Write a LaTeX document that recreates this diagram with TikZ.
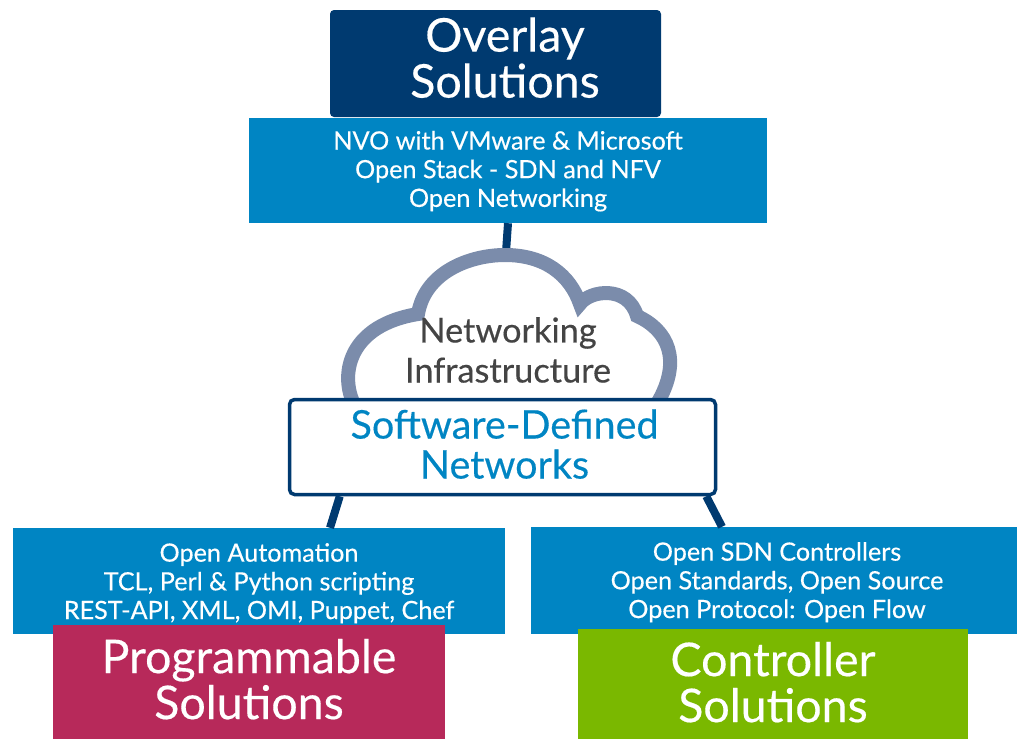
\documentclass[tikz,border=0pt]{standalone}
\usepackage{fontspec}
\usepackage{xcolor}
\setmainfont{Lato}[FakeBold=0.35]
\usetikzlibrary{positioning}
\definecolor{navyblue}{HTML}{003A70}
\definecolor{dellblue}{HTML}{0085C3}
\definecolor{berry}{HTML}{B7295A}
\definecolor{leaf}{HTML}{7AB800}
\definecolor{cloudgray}{HTML}{7B8CAB}
\definecolor{textgray}{HTML}{444444}
\newcommand{\topstrut}[1]{\rule{0pt}{#1pt}}
\newcommand{\botstrut}[1]{\rule[-#1pt]{0pt}{#1pt}}
\tikzset{
  titlebox/.style={text=white,align=center,inner sep=0pt,font=\fontsize{46.5}{46}\selectfont},
  infobox/.style={fill=dellblue,text=white,align=center,inner sep=0pt,font=\fontsize{25.2}{28.7}\selectfont},
  link/.style={draw=navyblue,line width=8pt}
}
\begin{document}
\begin{tikzpicture}[x=1pt,y=-1pt]
\useasboundingbox (0,0) rectangle (1017,739);
\node[infobox,minimum width=518pt,minimum height=105pt] (overlayinfo) at (508,170.5) {\topstrut{20}NVO with VMware \& Microsoft\\Open Stack - SDN and NFV\\Open Networking};
\node[titlebox,fill=navyblue,rounded corners=4pt,minimum width=331pt,minimum height=107pt] (overlay) at (495.5,63.5) {\hspace*{19pt}Overlay\\\hspace*{19pt}Solutions\botstrut{12}};
\coordinate (cloudtop) at (506,252);
\path (overlayinfo.south) edge [link] (cloudtop);
% cloud
\draw[draw=cloudgray,line width=14pt,fill=white] (353,402) .. controls (340,372) and (350,325) .. (418,314)
  .. controls (425,272) and (470,255) .. (505,255) .. controls (545,255) and (570,275) .. (580,304)
  .. controls (590,290) and (628,285) .. (637,316) .. controls (668,330) and (682,360) .. (658,402);
\node[text=textgray,align=center,inner sep=0pt,font=\fontsize{34.3}{40}\selectfont] (cloud) at (508,350) {Networking\\Infrastructure};
\node[draw=navyblue,fill=white,line width=3.5pt,rounded corners=5pt,text=dellblue,align=center,inner sep=0pt,minimum width=426pt,minimum height=95pt,font=\fontsize{39.5}{40}\selectfont] (sdn) at (502.5,447) {\hspace*{4pt}Software-Defined\\\hspace*{4pt}Networks\botstrut{6}};
\node[infobox,minimum width=492pt,minimum height=106pt] (autominfo) at (259,581) {\topstrut{23}Open Automation\\TCL, Perl \& Python scripting\\REST-API, XML, OMI, Puppet, Chef};
\node[infobox,minimum width=486pt,minimum height=107pt] (ctrlinfo) at (774,580.5) {\topstrut{22}\hspace*{6pt}Open SDN Controllers\\\hspace*{6pt}Open Standards, Open Source\\\hspace*{6pt}Open Protocol: Open Flow};
\node[titlebox,fill=berry,minimum width=392pt,minimum height=114pt] (autom) at (249,682) {Programmable\\Solutions\botstrut{6}};
\node[titlebox,fill=leaf,minimum width=390pt,minimum height=110pt] (ctrl) at (773,684) {Controller\\Solutions\botstrut{4}};
\path ([xshift=52pt]sdn.south west) edge [link] ([xshift=71pt]autominfo.north);
\path ([xshift=-11pt]sdn.south east) edge [link] ([xshift=-52pt]ctrlinfo.north);
\end{tikzpicture}
\end{document}
